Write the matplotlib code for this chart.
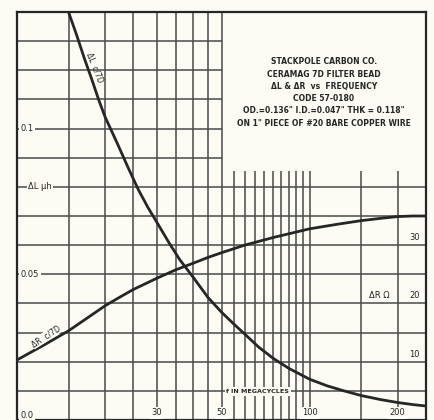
import matplotlib
matplotlib.use('Agg')
import matplotlib.pyplot as plt
import numpy as np

# curve readings (f in megacycles)
freq_L = [15, 16, 17, 18, 19, 20, 22, 24, 26, 28, 30, 33, 36, 40, 45, 50, 55, 60,
          67, 75, 85, 100, 115, 130, 150, 175, 200, 225, 250]
delta_L = [0.140, 0.132, 0.124, 0.117, 0.110, 0.104, 0.095, 0.0865, 0.079, 0.073,
           0.068, 0.061, 0.055, 0.049, 0.042, 0.037, 0.033, 0.0295, 0.025, 0.0212,
           0.0177, 0.0140, 0.0117, 0.0101, 0.0084, 0.0070, 0.0060, 0.0053, 0.0048]

freq_R = [10, 12.5, 15, 17.5, 20, 22.5, 25, 30, 35, 40, 45, 50, 60, 75, 100,
          125, 150, 175, 200, 225, 250]
delta_R = [10.3, 13.0, 15.3, 17.6, 19.6, 21.1, 22.4, 24.3, 25.8, 26.9, 27.9, 28.7,
           30.0, 31.3, 32.8, 33.6, 34.2, 34.6, 34.9, 35.0, 35.0]

# grid layout of the chart paper
grid_f_full = [15, 20, 25, 30, 35, 40, 45, 50]
grid_f_low = [55, 60, 65, 70, 75, 80, 85, 90, 95, 100, 150, 200]
grid_L_full = [0.01, 0.02, 0.03, 0.04, 0.05, 0.06, 0.07, 0.08]
grid_L_left = [0.09, 0.10, 0.11, 0.12, 0.13]

f_labels = ['30', '50', '100', '200']
f_label_pos = [30, 50, 100, 200]
R_labels = ['10', '20', '30']
R_label_pos = [10, 20, 30]

title_lines = ['STACKPOLE CARBON CO.',
               'CERAMAG 7D FILTER BEAD',
               '\u0394L & \u0394R  vs  FREQUENCY',
               'CODE 57-0180',
               'OD.=0.136" I.D.=0.047" THK = 0.118"',
               'ON 1" PIECE OF #20 BARE COPPER WIRE']

paper = '#fcfcf5'
ink = '#262626'
gcol = '#4a4a4a'

fig = plt.figure(figsize=(4.34, 4.20), dpi=100, facecolor=paper)
ax = fig.add_axes([17/434, 0.0, 409/434, 408/420])
ax.set_facecolor(paper)
ax.set_xscale('log')
ax.set_xlim(10, 250)
ax.set_ylim(0, 0.14)
ax.set_xticks([]); ax.set_yticks([])
ax.minorticks_off()
for s in ax.spines.values():
    s.set_linewidth(1.6)
    s.set_color(ink)

# paper grid
ax.vlines(grid_f_full, 0, 0.14, color=gcol, lw=1.1, zorder=1)
ax.vlines(grid_f_low, 0, 0.0855, color=gcol, lw=1.1, zorder=1)
ax.hlines(grid_L_full, 10, 250, color=gcol, lw=1.1, zorder=1)
ax.hlines(grid_L_left, 10, 50, color=gcol, lw=1.1, zorder=1)

ax.plot(freq_L, delta_L, color=ink, lw=2.0, zorder=3, solid_capstyle='butt')

ax2 = ax.twinx()
ax2.set_ylim(0, 70)
ax2.set_yticks([])
for s in ax2.spines.values():
    s.set_visible(False)
ax2.plot(freq_R, delta_R, color=ink, lw=2.0, zorder=3)

box = dict(facecolor=paper, edgecolor='none', pad=1.0)
fs = 6

# left scale labels
ax.text(10.3, 0.100, '0.1', fontsize=fs, color=ink, va='center', ha='left', bbox=box, zorder=4)
ax.text(10.9, 0.080, '\u0394L \u03bch', fontsize=fs, color=ink, va='center', ha='left', bbox=box, zorder=4)
ax.text(10.3, 0.050, '0.05', fontsize=fs, color=ink, va='center', ha='left', bbox=box, zorder=4)
ax.text(10.3, 0.0015, '0.0', fontsize=fs, color=ink, va='center', ha='left', bbox=box, zorder=4)

# frequency labels
for lab, f in zip(f_labels, f_label_pos):
    ax.text(f, 0.0025, lab, fontsize=fs, color=ink, va='center', ha='center', bbox=box, zorder=4)
ax.text(66.5, 0.0098, 'f IN MEGACYCLES', fontsize=4.6, fontweight='bold', color=ink,
        va='center', ha='center', bbox=dict(facecolor=paper, edgecolor='none', pad=1.2), zorder=4)

# right scale labels
for lab, r in zip(R_labels, R_label_pos):
    ax2.text(238, r + 1.3, lab, fontsize=fs, color=ink, va='center', ha='right', zorder=4)
ax2.text(188, 21.3, '\u0394R \u03a9', fontsize=fs, color=ink, va='center', ha='right', zorder=4)

# curve labels
ax.text(18.4, 0.121, '\u0394L  c/7D', fontsize=5.5, color=ink, rotation=-68,
        va='center', ha='center', zorder=4)
ax2.text(12.6, 14.4, '\u0394R  c/7D', fontsize=5.5, color=ink, rotation=33,
         va='center', ha='center', bbox=dict(facecolor=paper, edgecolor='none', pad=0.3), zorder=4)

# title block
for i, line in enumerate(title_lines):
    fig.text(324/434, 1 - (62 + 12.2*i)/420, line, fontsize=5.5, fontweight='bold',
             color=ink, ha='center', va='center')

fig.savefig('out.png', dpi=100, facecolor=paper)
